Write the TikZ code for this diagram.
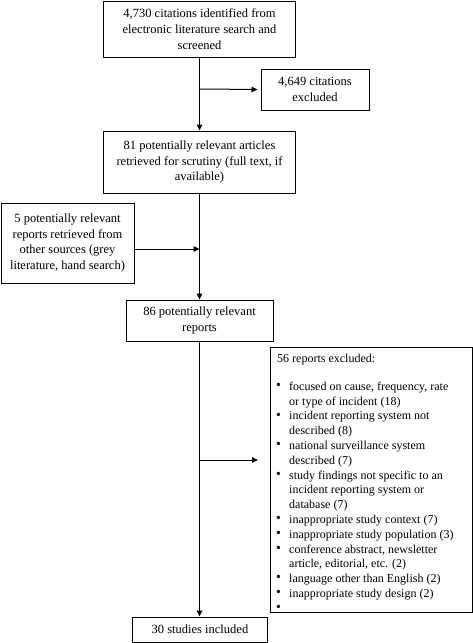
\documentclass[tikz,border=0pt]{standalone}
\usepackage{fontspec}
\setmainfont{Liberation Serif}
\usetikzlibrary{arrows.meta}
\newcommand{\bul}{\makebox[12pt][l]{\hspace*{-1pt}\raisebox{0.15ex}{\scalebox{1.15}{\textbullet}}}}
\newcommand{\ind}{\hspace*{12pt}}
\begin{document}
\begin{tikzpicture}[x=1pt,y=-1pt,
  box/.style={draw, line width=1pt, align=center, inner sep=0pt, font=\fontsize{12.5}{15.8}\selectfont},
  arr/.style={line width=1pt, -{Triangle[length=6pt,width=5.5pt]}},
  listtext/.style={align=left, inner sep=0pt, font=\fontsize{12}{14.8}\selectfont}]
\useasboundingbox (0,0) rectangle (473,643);
\node[box, minimum width=192pt, minimum height=56pt] (b1) at (199.5,29) {4,730 citations identified from\\electronic literature search and\\screened};
\node[box, minimum width=108pt, minimum height=41pt] (b2) at (315,89.5) {4,649 citations\\excluded};
\node[box, minimum width=192pt, minimum height=62pt] (b3) at (199.5,162) {81 potentially relevant articles\\retrieved for scrutiny (full text, if\\available)};
\node[box, minimum width=133pt, minimum height=80pt] (b4) at (67.5,243) {5 potentially relevant\\reports retrieved from\\other sources (grey\\literature, hand search)};
\node[box, minimum width=147pt, minimum height=41pt] (b5) at (199.5,320.5) {86 potentially relevant\\reports};
\node[draw, line width=1pt, inner sep=0pt, minimum width=202pt, minimum height=265pt, anchor=north west] (b6) at (269.5,347) {};
\node[listtext, anchor=north west] (t6) at (277,354) {56 reports excluded:\\[13pt]
\bul focused on cause, frequency, rate\\
\ind or type of incident (18)\\
\bul incident reporting system not\\
\ind described (8)\\
\bul national surveillance system\\
\ind described (7)\\
\bul study findings not specific to an\\
\ind incident reporting system or\\
\ind database (7)\\
\bul inappropriate study context (7)\\
\bul inappropriate study population (3)\\
\bul conference abstract, newsletter\\
\ind article, editorial, etc. (2)\\
\bul language other than English (2)\\
\bul inappropriate study design (2)\\
\bul};
\node[box, minimum width=135pt, minimum height=25pt] (b7) at (200,629.5) {30 studies included};
\coordinate (j1) at (199.5,89);
\coordinate (j2) at (199.5,249);
\coordinate (j3) at (199.5,460);
\coordinate (j4) at (258,460);
\draw[arr] (b1.south) -- (b3.north);
\draw[arr, shorten >=3pt] (j1) -- (b2.west);
\draw[arr] (b3.south) -- (b5.north);
\draw[arr] (b4.east |- j2) -- (j2);
\draw[arr] (b5.south) -- (b5.south |- b7.north);
\draw[arr] (j3) -- (j4);
\end{tikzpicture}
\end{document}
